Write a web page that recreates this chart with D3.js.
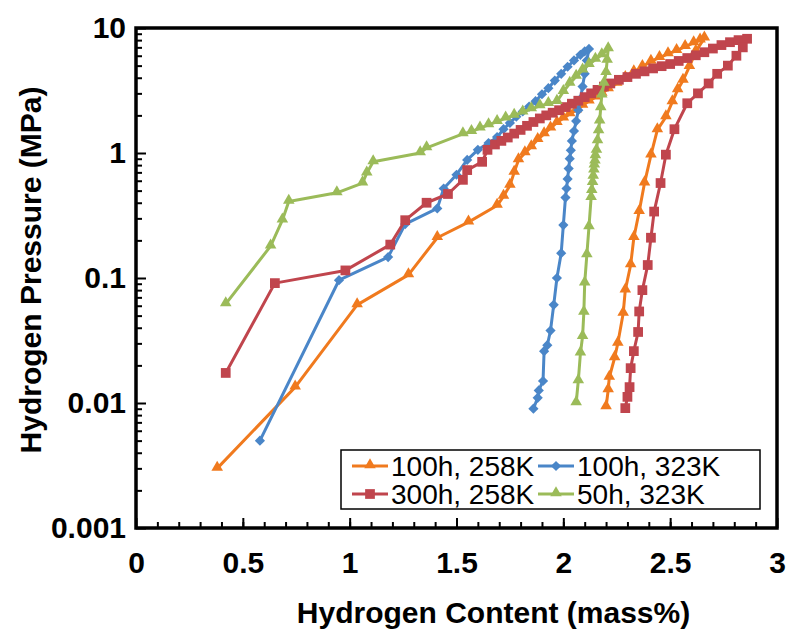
<!DOCTYPE html>
<html>
<head>
<meta charset="utf-8">
<script src="https://cdn.jsdelivr.net/npm/d3@7"></script>
<style>
    body { margin: 0; background: #fff; }
    svg { display: block; font-family: Arial, "Liberation Sans", sans-serif; }
</style>
</head>
<body>
<svg id="chart" width="786" height="635"></svg>
<script>
// series names (legend order)
const seriesNames = ['100h, 258K', '100h, 323K', '300h, 258K', '50h, 323K'];

// [mass%, MPa]: absorption then desorption
const h100k258 = [
    [0.38, 0.003], [0.745, 0.0134], [1.035, 0.061], [1.275, 0.106], [1.41, 0.21], [1.556, 0.28],
    [1.69, 0.38], [1.72, 0.45], [1.75, 0.55], [1.77, 0.70], [1.79, 0.88], [1.82, 1.0], [1.85, 1.12],
    [1.88, 1.28], [1.91, 1.42], [1.94, 1.58], [1.97, 1.75], [2.00, 1.9], [2.03, 2.05], [2.06, 2.2],
    [2.09, 2.4], [2.12, 2.6], [2.15, 2.8], [2.18, 3.0], [2.21, 3.25], [2.25, 3.6], [2.29, 4.0],
    [2.33, 4.45], [2.37, 4.9], [2.41, 5.4], [2.45, 5.8], [2.49, 6.2], [2.53, 6.6], [2.57, 7.1],
    [2.61, 7.6], [2.64, 8.0], [2.66, 8.3],
    [2.62, 6.5], [2.59, 4.9], [2.56, 3.8], [2.535, 3.2], [2.51, 2.56], [2.48, 1.94], [2.44, 1.53],
    [2.41, 0.96], [2.38, 0.575], [2.355, 0.34], [2.33, 0.21], [2.315, 0.127], [2.29, 0.08],
    [2.28, 0.052], [2.255, 0.030], [2.24, 0.023], [2.215, 0.016], [2.21, 0.0127], [2.20, 0.0093]
];
const h100k323 = [
    [0.58, 0.005], [0.95, 0.096], [1.18, 0.147], [1.26, 0.27], [1.41, 0.36], [1.44, 0.52],
    [1.50, 0.67], [1.55, 0.88], [1.60, 1.06], [1.65, 1.2], [1.69, 1.34], [1.72, 1.55], [1.75, 1.74],
    [1.78, 1.95], [1.81, 2.15], [1.84, 2.35], [1.87, 2.6], [1.90, 2.95], [1.93, 3.3], [1.96, 3.8],
    [1.99, 4.3], [2.02, 4.9], [2.05, 5.5], [2.08, 6.1], [2.10, 6.5], [2.12, 6.8],
    [2.11, 5.5], [2.10, 4.3], [2.09, 3.4], [2.08, 2.7], [2.07, 2.2], [2.06, 1.8], [2.05, 1.5],
    [2.04, 1.25], [2.035, 1.05], [2.03, 0.9], [2.025, 0.75], [2.02, 0.62], [2.015, 0.52],
    [2.01, 0.44], [2.0, 0.265], [1.99, 0.158], [1.97, 0.1], [1.955, 0.061], [1.94, 0.038],
    [1.925, 0.029], [1.91, 0.026], [1.905, 0.015], [1.885, 0.0126], [1.88, 0.011], [1.86, 0.009]
];
const h300k258 = [
    [0.42, 0.0174], [0.65, 0.091], [0.98, 0.115], [1.19, 0.185], [1.26, 0.29], [1.36, 0.40],
    [1.46, 0.47], [1.53, 0.61], [1.55, 0.73], [1.62, 0.85], [1.645, 1.06], [1.68, 1.17],
    [1.71, 1.25], [1.74, 1.33], [1.77, 1.43], [1.80, 1.53], [1.83, 1.65], [1.86, 1.77], [1.89, 1.89],
    [1.92, 2.0], [1.95, 2.1], [1.98, 2.2], [2.01, 2.33], [2.04, 2.48], [2.07, 2.62], [2.10, 2.8],
    [2.13, 3.0], [2.16, 3.2], [2.19, 3.4], [2.22, 3.6], [2.26, 3.85], [2.30, 4.05], [2.34, 4.3],
    [2.38, 4.5], [2.42, 4.75], [2.46, 4.95], [2.50, 5.15], [2.54, 5.45], [2.58, 5.75], [2.62, 6.05],
    [2.66, 6.4], [2.70, 6.85], [2.74, 7.3], [2.78, 7.7], [2.82, 8.0], [2.86, 8.2],
    [2.84, 7.0], [2.81, 6.0], [2.77, 5.0], [2.72, 4.3], [2.68, 3.6], [2.63, 3.0], [2.58, 2.5],
    [2.52, 1.55], [2.48, 0.97], [2.455, 0.575], [2.425, 0.34], [2.41, 0.21], [2.395, 0.127],
    [2.37, 0.08], [2.355, 0.054], [2.35, 0.037], [2.33, 0.026], [2.315, 0.019], [2.31, 0.0134],
    [2.30, 0.0112], [2.29, 0.0091]
];
const h50k323 = [
    [0.42, 0.062], [0.63, 0.18], [0.685, 0.29], [0.715, 0.41], [0.94, 0.48], [1.06, 0.575],
    [1.08, 0.69], [1.11, 0.85], [1.33, 1.0], [1.36, 1.1], [1.53, 1.42], [1.57, 1.48], [1.61, 1.58],
    [1.65, 1.68], [1.69, 1.78], [1.73, 1.9], [1.77, 2.0], [1.81, 2.12], [1.85, 2.25], [1.89, 2.38],
    [1.93, 2.48], [1.97, 2.58], [2.00, 3.1], [2.03, 3.6], [2.06, 4.1], [2.09, 4.6], [2.12, 5.1],
    [2.15, 5.6], [2.18, 6.1], [2.21, 6.8],
    [2.205, 5.5], [2.20, 4.4], [2.19, 3.6], [2.18, 2.9], [2.175, 2.3], [2.17, 1.8], [2.165, 1.5],
    [2.16, 1.25], [2.155, 1.05], [2.15, 0.95], [2.148, 0.86], [2.145, 0.8], [2.143, 0.73],
    [2.14, 0.65], [2.137, 0.58], [2.133, 0.5], [2.13, 0.44], [2.12, 0.256], [2.11, 0.153],
    [2.10, 0.091], [2.096, 0.053], [2.09, 0.034], [2.08, 0.025], [2.07, 0.015], [2.06, 0.01]
];

// axis ticks
const xTicks = [0, 0.5, 1, 1.5, 2, 2.5, 3];
const yTicks = [0.001, 0.01, 0.1, 1, 10];
const yTickLabels = ['0.001', '0.01', '0.1', '1', '10'];

// style
const series = [
    { name: seriesNames[0], data: h100k258, color: '#F07A1E', marker: 'triangle' },
    { name: seriesNames[1], data: h100k323, color: '#4A86C8', marker: 'diamond' },
    { name: seriesNames[2], data: h300k258, color: '#C0454D', marker: 'square' },
    { name: seriesNames[3], data: h50k323, color: '#9BBB59', marker: 'triangle' }
];
const box = { left: 136, right: 777, top: 28, bottom: 528 };

const svg = d3.select('#chart');

const x = d3.scaleLinear().domain([0, 3]).range([box.left, box.right]);
const y = d3.scaleLog().domain([0.001, 10]).range([box.bottom, box.top]);

// marker shapes
function symbolOf(kind) {
    if (kind === 'square') return d3.symbol(d3.symbolSquare, 95)();
    if (kind === 'diamond') return d3.symbol(d3.symbolSquare, 52)();
    return d3.symbol(d3.symbolTriangle, 58)();
}
function markerTransform(kind, px, py) {
    if (kind === 'diamond') return `translate(${px},${py}) rotate(45)`;
    if (kind === 'triangle') return `translate(${px},${py - 1})`;
    return `translate(${px},${py})`;
}

// minor ticks (inside)
const yMinor = [];
[0.001, 0.01, 0.1, 1].forEach(d => {
    for (let k = 2; k <= 9; k++) yMinor.push(d * k);
});
svg.append('g')
    .attr('transform', `translate(${box.left},0)`)
    .call(d3.axisRight(y).tickValues(yMinor).tickSize(6).tickFormat(''))
    .call(g => g.select('.domain').remove())
    .call(g => g.selectAll('line').attr('stroke', '#000').attr('stroke-width', 2));
svg.append('g')
    .attr('transform', `translate(${box.left},0)`)
    .call(d3.axisRight(y).tickValues(yTicks).tickSize(10).tickFormat(''))
    .call(g => g.select('.domain').remove())
    .call(g => g.selectAll('line').attr('stroke', '#000').attr('stroke-width', 2));

const xMinor = d3.range(1, 30).map(i => i / 10);
svg.append('g')
    .attr('transform', `translate(0,${box.bottom})`)
    .call(d3.axisTop(x).tickValues(xMinor).tickSize(6).tickFormat(''))
    .call(g => g.select('.domain').remove())
    .call(g => g.selectAll('line').attr('stroke', '#000').attr('stroke-width', 2));
svg.append('g')
    .attr('transform', `translate(0,${box.bottom})`)
    .call(d3.axisTop(x).tickValues(xTicks).tickSize(10).tickFormat(''))
    .call(g => g.select('.domain').remove())
    .call(g => g.selectAll('line').attr('stroke', '#000').attr('stroke-width', 2));

// tick labels
svg.append('g')
    .attr('transform', `translate(${box.left},0)`)
    .call(d3.axisLeft(y).tickValues(yTicks).tickSize(0).tickPadding(10)
        .tickFormat((d, i) => yTickLabels[i]))
    .call(g => g.select('.domain').remove())
    .call(g => g.selectAll('text')
        .attr('font-size', 30).attr('font-weight', 'bold').attr('fill', '#000')
        .attr('font-family', 'Arial, "Liberation Sans", sans-serif'));
svg.append('g')
    .attr('transform', `translate(0,${box.bottom})`)
    .call(d3.axisBottom(x).tickValues(xTicks).tickSize(0).tickPadding(24)
        .tickFormat(d3.format('')))
    .call(g => g.select('.domain').remove())
    .call(g => g.selectAll('text')
        .attr('font-size', 30).attr('font-weight', 'bold').attr('fill', '#000')
        .attr('font-family', 'Arial, "Liberation Sans", sans-serif'));

// series
const line = d3.line().x(d => x(d[0])).y(d => y(d[1]));
const plot = svg.append('g');
series.forEach(s => {
    const g = plot.append('g');
    g.append('path')
        .attr('d', line(s.data))
        .attr('fill', 'none')
        .attr('stroke', s.color)
        .attr('stroke-width', 3)
        .attr('stroke-linejoin', 'round');
    g.selectAll('path.mk')
        .data(s.data)
        .enter()
        .append('path')
        .attr('class', 'mk')
        .attr('d', symbolOf(s.marker))
        .attr('transform', d => markerTransform(s.marker, x(d[0]), y(d[1])))
        .attr('fill', s.color);
});

// frame
svg.append('rect')
    .attr('x', box.left).attr('y', box.top)
    .attr('width', box.right - box.left).attr('height', box.bottom - box.top)
    .attr('fill', 'none').attr('stroke', '#000').attr('stroke-width', 3.5);

// legend
const legend = svg.append('g');
legend.append('rect')
    .attr('x', 341).attr('y', 450).attr('width', 419).attr('height', 59)
    .attr('fill', '#fff').attr('stroke', '#000').attr('stroke-width', 1.5);
const slots = [[352, 466], [538, 466], [352, 494], [538, 494]];
series.forEach((s, i) => {
    const [lx, ly] = slots[i];
    const item = legend.append('g');
    item.append('line')
        .attr('x1', lx).attr('x2', lx + 36).attr('y1', ly).attr('y2', ly)
        .attr('stroke', s.color).attr('stroke-width', 3);
    item.append('path')
        .attr('d', symbolOf(s.marker))
        .attr('transform', markerTransform(s.marker, lx + 18, ly))
        .attr('fill', s.color);
    item.append('text')
        .attr('x', lx + 39).attr('y', ly)
        .attr('dy', '0.35em')
        .attr('font-size', 28)
        .attr('fill', '#000')
        .text(s.name);
});

// axis titles
svg.append('text')
    .attr('x', (box.left + box.right) / 2 + 37).attr('y', 612)
    .attr('text-anchor', 'middle')
    .attr('dy', '0.35em')
    .attr('font-size', 30).attr('font-weight', 'bold')
    .text('Hydrogen Content (mass%)');
svg.append('text')
    .attr('transform', 'translate(30,270) rotate(-90)')
    .attr('text-anchor', 'middle')
    .attr('dy', '0.35em')
    .attr('font-size', 30).attr('font-weight', 'bold')
    .text('Hydrogen Pressure (MPa)');
</script>
</body>
</html>
